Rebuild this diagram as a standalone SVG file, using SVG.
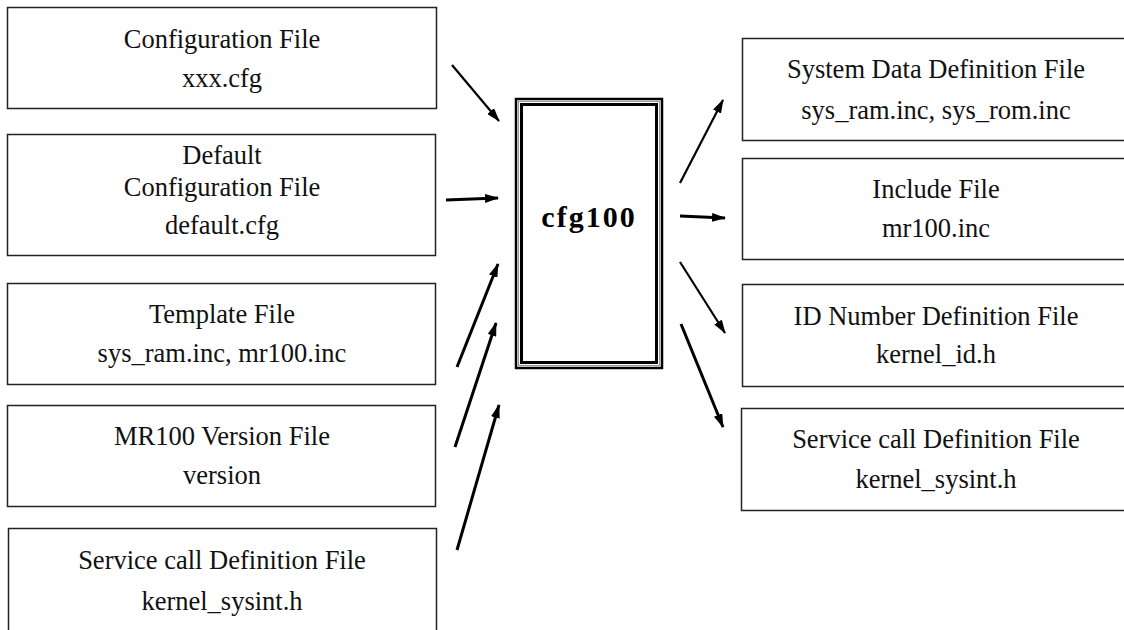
<svg xmlns="http://www.w3.org/2000/svg" width="1124" height="630" viewBox="0 0 1124 630">
<defs>
<style>
.box{fill:#fff;stroke:#222;stroke-width:1.5}
.t{font-family:"Liberation Serif","Times New Roman",serif;font-size:26.5px;fill:#111;text-anchor:middle}
.c{stroke:#000;stroke-width:2.2;fill:none;marker-end:url(#ah)}
.c3{stroke-width:3}
</style>
<marker id="ah" viewBox="0 0 14 9" refX="13" refY="4.5" markerWidth="14" markerHeight="9" markerUnits="userSpaceOnUse" orient="auto">
<path d="M0,0 L14,4.5 L0,9 Z" fill="#000"/>
</marker>
</defs>
<rect width="1124" height="630" fill="#fff"/>
<g id="n-config">
<rect class="box" x="7.5" y="7.5" width="429" height="101"/>
<text class="t" x="222" y="48">Configuration File</text>
<text class="t" x="222" y="87">xxx.cfg</text>
</g>
<g id="n-default">
<rect class="box" x="7.5" y="134.5" width="428" height="121"/>
<text class="t" x="222" y="164">Default</text>
<text class="t" x="222" y="196">Configuration File</text>
<text class="t" x="222" y="234">default.cfg</text>
</g>
<g id="n-template">
<rect class="box" x="7.5" y="283.5" width="428" height="101"/>
<text class="t" x="222" y="323">Template File</text>
<text class="t" x="222" y="362">sys_ram.inc, mr100.inc</text>
</g>
<g id="n-version">
<rect class="box" x="7.5" y="405.5" width="428" height="101"/>
<text class="t" x="222" y="445">MR100 Version File</text>
<text class="t" x="222" y="484">version</text>
</g>
<g id="n-svc-left">
<rect class="box" x="8.5" y="528.5" width="428" height="120"/>
<text class="t" x="222" y="569">Service call Definition File</text>
<text class="t" x="222" y="610">kernel_sysint.h</text>
</g>
<g id="n-cfg100">
<rect x="516" y="99" width="146" height="269" fill="#fff" stroke="#000" stroke-width="2.5"/>
<rect x="518.5" y="101.5" width="141" height="264" fill="none" stroke="#999" stroke-width="1"/>
<rect x="521.5" y="104.5" width="135" height="258" fill="none" stroke="#000" stroke-width="3"/>
<text x="589" y="227" font-family="'Liberation Serif','Times New Roman',serif" font-size="30" font-weight="bold" letter-spacing="2" text-anchor="middle" fill="#000">cfg100</text>
</g>
<g id="n-sysdata">
<rect class="box" x="742.5" y="38.5" width="400" height="102"/>
<text class="t" x="936" y="78">System Data Definition File</text>
<text class="t" x="936" y="119">sys_ram.inc, sys_rom.inc</text>
</g>
<g id="n-include">
<rect class="box" x="742.5" y="158.5" width="400" height="101"/>
<text class="t" x="936" y="198">Include File</text>
<text class="t" x="936" y="237">mr100.inc</text>
</g>
<g id="n-idnum">
<rect class="box" x="742.5" y="284.5" width="400" height="102"/>
<text class="t" x="936" y="325">ID Number Definition File</text>
<text class="t" x="936" y="363">kernel_id.h</text>
</g>
<g id="n-svc-right">
<rect class="box" x="741.5" y="408.5" width="400" height="102"/>
<text class="t" x="936" y="448">Service call Definition File</text>
<text class="t" x="936" y="488">kernel_sysint.h</text>
</g>
<g id="connectors">
<line class="c" x1="452" y1="65" x2="499" y2="121"/>
<line class="c c3" x1="446" y1="200" x2="498" y2="198"/>
<line class="c c3" x1="457" y1="367" x2="498" y2="264"/>
<line class="c c3" x1="455" y1="447" x2="496" y2="323"/>
<line class="c c3" x1="457" y1="550" x2="499" y2="405"/>
<line class="c" x1="680" y1="183" x2="723" y2="100"/>
<line class="c c3" x1="680" y1="216" x2="725" y2="218"/>
<line class="c" x1="680" y1="262" x2="725" y2="333"/>
<line class="c c3" x1="681" y1="324" x2="723" y2="427"/>
</g>
</svg>
